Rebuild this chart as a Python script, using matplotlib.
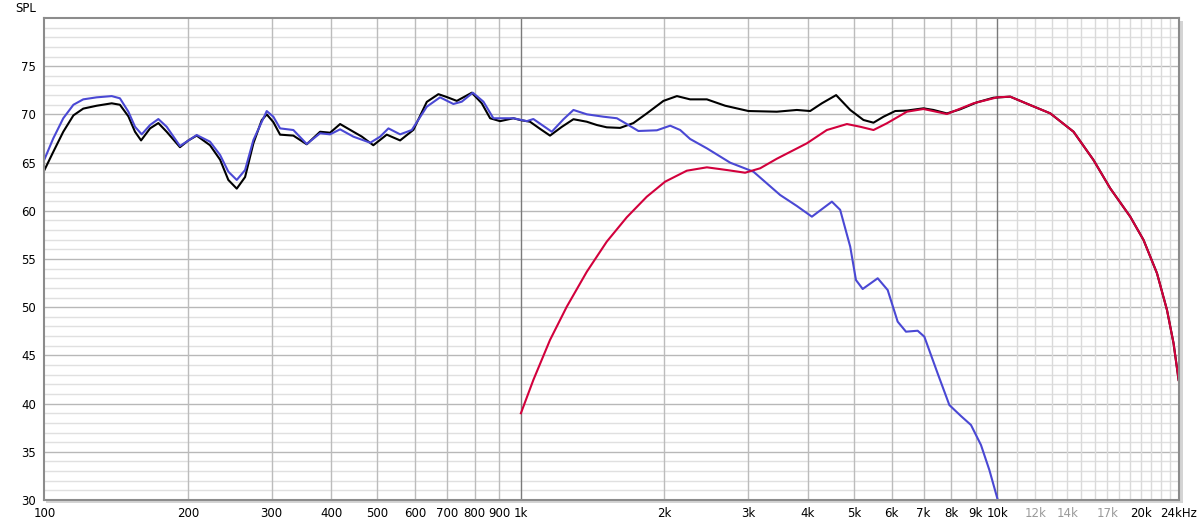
import matplotlib
matplotlib.use("Agg")
import matplotlib.pyplot as plt
from matplotlib.patches import Rectangle

# ---- data (Hz, dB SPL) ----
sum_freq = [100, 104.4, 109.6, 115.1, 120.7, 128.8, 138.5, 144.1, 150.1, 155.0, 159.6,
            166.7, 173.5, 180.6, 192.6, 200.6, 208.8, 222.7, 233.8, 243.3, 253.4, 263.8,
            274.6, 285.9, 292.9, 302.4, 312.4, 333.1, 355.3, 379.0, 397.8, 417.5, 445.2,
            463.6, 490.2, 523.1, 557.9, 595.0, 634.7, 671.3, 699.2, 733.8, 788.9, 827.8,
            861.8, 904.4, 964.5, 1000, 1045, 1097, 1151, 1218, 1289, 1375, 1443, 1514,
            1615, 1722, 1837, 1991, 2125, 2265, 2456, 2683, 3002, 3443, 3793, 4045, 4280,
            4586, 4909, 5234, 5493, 5765, 6100, 6455, 6992, 7339, 7831, 8352, 9052, 9809,
            10634, 11710, 12902, 14440, 15900, 17240, 18990, 20250, 21610, 22680, 23410, 23990]
sum_spl = [64.2, 66.1, 68.2, 69.9, 70.6, 70.9, 71.15, 71.0, 69.8, 68.2, 67.3,
           68.55, 69.1, 68.2, 66.6, 67.3, 67.8, 66.8, 65.3, 63.2, 62.3, 63.5,
           67.0, 69.4, 70.0, 69.2, 67.9, 67.8, 66.9, 68.2, 68.1, 69.0, 68.2,
           67.7, 66.8, 67.9, 67.3, 68.4, 71.3, 72.1, 71.8, 71.4, 72.25, 71.15,
           69.6, 69.3, 69.6, 69.4, 69.24, 68.5, 67.8, 68.7, 69.5, 69.24, 68.9, 68.66,
           68.6, 69.1, 70.1, 71.4, 71.9, 71.56, 71.56, 70.9, 70.35, 70.28, 70.46, 70.35, 71.15,
           72.0, 70.46, 69.42, 69.14, 69.76, 70.35, 70.4, 70.63, 70.46, 70.1, 70.53, 71.25, 71.73,
           71.84, 70.97, 70.11, 68.2, 65.27, 62.33, 59.39, 56.97, 53.52, 49.71, 46.26, 42.45]

woofer_freq = [100, 104.4, 109.6, 115.1, 120.7, 128.8, 138.5, 144.1, 150.1, 155.0, 160.1,
               166.7, 173.5, 180.6, 192.6, 208.8, 222.7, 233.8, 243.3, 253.4, 263.8, 274.6,
               292.9, 302.4, 312.4, 333.1, 355.3, 379.0, 397.8, 417.5, 445.2, 483.0, 506.5,
               527.3, 557.9, 590.2, 634.7, 676.7, 721.7, 751.6, 792.7, 834.4, 875.5, 964.5,
               1029, 1062, 1161, 1228, 1289, 1375, 1490, 1590, 1668, 1764, 1929, 2057, 2159,
               2265, 2456, 2749, 3075, 3499, 3793, 4079, 4493, 4676, 4909, 5047, 5214, 5606,
               5883, 6174, 6427, 6800, 7023, 7488, 7925, 8382, 8798, 9232, 9615, 10005]
woofer_spl = [65.3, 67.5, 69.6, 71.0, 71.56, 71.77, 71.9, 71.67, 70.28, 68.72, 67.93,
              68.9, 69.52, 68.72, 66.72, 67.86, 67.17, 65.79, 64.06, 63.2, 64.23, 67.34,
              70.35, 69.76, 68.55, 68.38, 66.93, 68.04, 67.93, 68.45, 67.69, 67.06, 67.69,
              68.55, 67.93, 68.38, 70.8, 71.77, 71.08, 71.32, 72.25, 71.32, 69.6, 69.6,
              69.3, 69.52, 68.2, 69.49, 70.46, 70.01, 69.76, 69.6, 69.0, 68.28, 68.35, 68.83, 68.38,
              67.45, 66.48, 64.99, 64.06, 61.64, 60.5, 59.39, 60.95, 60.1, 56.28, 52.82, 51.89, 53.0,
              51.78, 48.5, 47.46, 47.56, 46.94, 43.14, 39.85, 38.71, 37.78, 35.71, 33.11, 30.07]

tweeter_freq = [1000, 1062, 1151, 1248, 1375, 1514, 1668, 1837, 2007, 2229, 2456, 2705,
                2954, 3177, 3443, 3981, 4385, 4831, 5151, 5493, 5861, 6455, 6992, 7831,
                8904, 9987, 10634, 11710, 12902, 14440, 15900, 17240, 18990, 20250, 21610,
                22680, 23410, 23990]
tweeter_spl = [39.0, 42.45, 46.6, 50.05, 53.68, 56.8, 59.33, 61.46, 63.02, 64.16, 64.51, 64.23,
               63.95, 64.41, 65.4, 67.0, 68.38, 69.0, 68.72, 68.38, 69.08, 70.28, 70.56, 70.04,
               71.15, 71.77, 71.84, 70.97, 70.11, 68.2, 65.27, 62.33, 59.39, 56.97, 53.52,
               49.71, 46.26, 42.45]

x_tick_freqs = [100, 200, 300, 400, 500, 600, 700, 800, 900, 1000, 2000, 3000, 4000, 5000,
                6000, 7000, 8000, 9000, 10000, 12000, 14000, 17000, 20000, 24000]
x_tick_labels = ["100", "200", "300", "400", "500", "600", "700", "800", "900", "1k", "2k",
                 "3k", "4k", "5k", "6k", "7k", "8k", "9k", "10k", "12k", "14k", "17k",
                 "20k", "24kHz"]
faint_labels = ["12k", "14k", "17k"]
y_ticks = [30, 35, 40, 45, 50, 55, 60, 65, 70, 75]

plt.rcParams["font.family"] = ["DejaVu Sans"]

fig = plt.figure(figsize=(12, 5.24), dpi=100)
fig.patch.set_facecolor("white")

left, bottom = 44.3 / 1200, 24 / 524
width, height = 1134.4 / 1200, 482 / 524

# soft shadow behind the plot frame
shadow = Rectangle((left + 2 / 1200, bottom - 3 / 524), width + 2 / 1200, height,
                   transform=fig.transFigure, facecolor="#d4d4d4",
                   edgecolor="none", zorder=-5)
fig.patches.append(shadow)

ax = fig.add_axes([left, bottom, width, height])
ax.set_zorder(1)
ax.set_facecolor("white")
ax.set_xscale("log")
ax.set_xlim(100, 24000)
ax.set_ylim(30, 80)

# horizontal grid: 1 dB minor, 5 dB major
for db in range(31, 80):
    col = "#b8b8b8" if db % 5 == 0 else "#e0e0e0"
    ax.axhline(db, color=col, lw=1.0, zorder=1)

# vertical grid
vlines = list(range(200, 1000, 100)) + list(range(2000, 10000, 1000))
for f in vlines:
    ax.axvline(f, color="#bcbcbc", lw=1.0, zorder=1)
for f in range(11000, 24000, 1000):
    ax.axvline(f, color="#dadada", lw=1.0, zorder=1)
for f in (1000, 10000):
    ax.axvline(f, color="#7a7a7a", lw=1.0, zorder=1.5)

ax.plot(sum_freq, sum_spl, color="#000000", lw=1.5, zorder=3, solid_joinstyle="round")
ax.plot(woofer_freq, woofer_spl, color="#4a48d4", lw=1.5, zorder=4, solid_joinstyle="round")
ax.plot(tweeter_freq, tweeter_spl, color="#d2003c", lw=1.5, zorder=5, solid_joinstyle="round")

ax.set_xticks(x_tick_freqs)
ax.set_xticklabels(x_tick_labels)
ax.xaxis.set_minor_locator(matplotlib.ticker.NullLocator())
ax.set_yticks(y_ticks)
ax.set_yticklabels([str(v) for v in y_ticks])
ax.yaxis.set_minor_locator(matplotlib.ticker.NullLocator())
ax.tick_params(axis="both", length=0, labelsize=8.5, colors="#000000")
ax.tick_params(axis="x", pad=5)
ax.tick_params(axis="y", pad=6)
for lab in ax.get_xticklabels():
    if lab.get_text() in faint_labels:
        lab.set_color("#9a9a9a")

for spine in ax.spines.values():
    spine.set_color("#8c8c8c")
    spine.set_linewidth(1.5)
    spine.set_zorder(6)

fig.text(15 / 1200, 1 - 9 / 524, "SPL", fontsize=8.5, ha="left", va="center")

fig.savefig("out.png", dpi=100, facecolor="white")
